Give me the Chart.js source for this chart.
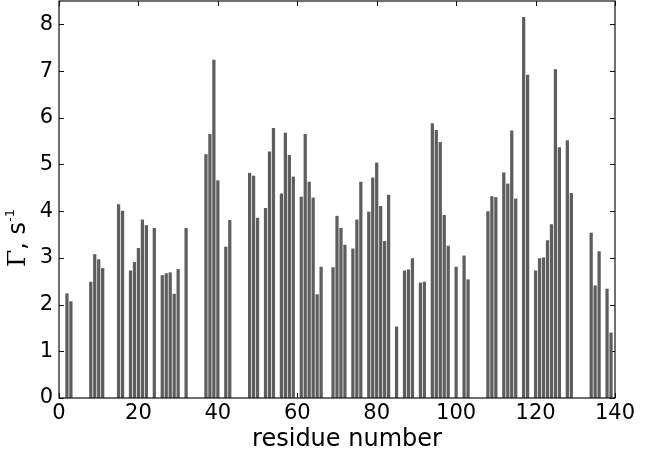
<!DOCTYPE html>
<html>
<head>
<meta charset="utf-8">
<script src="https://cdn.jsdelivr.net/npm/chart.js@4.4.1/dist/chart.umd.min.js"></script>
<style>
  html, body { margin: 0; padding: 0; background: #fff; }
  #wrap { width: 646px; height: 458px; }
</style>
</head>
<body>
<div id="wrap"><canvas id="gammaChart" width="646" height="458"></canvas></div>
<script>
// residue numbers and relaxation rates
const residues = [2, 3, 8, 9, 10, 11, 15, 16, 18, 19, 20, 21, 22, 24, 26, 27, 28, 29, 30, 32,
  37, 38, 39, 40, 42, 43, 48, 49, 50, 52, 53, 54, 56, 57, 58, 59, 61, 62, 63, 64, 65, 66,
  69, 70, 71, 72, 74, 75, 76, 78, 79, 80, 81, 82, 83, 85, 87, 88, 89, 91, 92, 94, 95, 96,
  97, 98, 100, 102, 103, 108, 109, 110, 112, 113, 114, 115, 117, 118, 120, 121, 122, 123,
  124, 125, 126, 128, 129, 134, 135, 136, 138, 139];
const gamma = [2.24, 2.07, 2.49, 3.08, 2.97, 2.78, 4.15, 4.01, 2.73, 2.91, 3.21, 3.82, 3.70, 3.64, 2.63, 2.67, 2.69, 2.23, 2.76, 3.64,
  5.22, 5.65, 7.24, 4.66, 3.24, 3.81, 4.82, 4.76, 3.86, 4.07, 5.28, 5.78, 4.38, 5.68, 5.20, 4.74, 4.31, 5.65, 4.63, 4.29, 2.22, 2.81,
  2.80, 3.90, 3.64, 3.28, 3.20, 3.82, 4.63, 3.99, 4.72, 5.04, 4.11, 3.36, 4.35, 1.53, 2.73, 2.75, 2.99, 2.47, 2.49, 5.88, 5.74, 5.48,
  3.92, 3.26, 2.81, 3.05, 2.54, 4.00, 4.32, 4.30, 4.83, 4.59, 5.73, 4.27, 8.16, 6.92, 2.73, 2.99, 3.01, 3.38,
  3.72, 7.04, 5.37, 5.52, 4.39, 3.54, 2.41, 3.14, 2.34, 1.40];
const xTicks = [0, 20, 40, 60, 80, 100, 120, 140];
const yTicks = [0, 1, 2, 3, 4, 5, 6, 7, 8];

const points = residues.map((r, i) => ({ x: r, y: gamma[i] }));

// frame box + inward tick marks, like the original plot
const framePlugin = {
  id: 'frame',
  beforeDatasetsDraw(chart) {
    const { ctx, chartArea: a, scales } = chart;
    ctx.save();
    ctx.strokeStyle = '#111';
    ctx.lineWidth = 1;
    ctx.beginPath();
    yTicks.forEach(v => {
      const y = Math.round(scales.y.getPixelForValue(v)) + 0.5;
      ctx.moveTo(a.left, y); ctx.lineTo(a.left + 5, y);
      ctx.moveTo(a.right, y); ctx.lineTo(a.right - 5, y);
    });
    xTicks.forEach(v => {
      const x = Math.round(scales.x.getPixelForValue(v)) + 0.5;
      ctx.moveTo(x, a.bottom); ctx.lineTo(x, a.bottom - 5);
      ctx.moveTo(x, a.top); ctx.lineTo(x, a.top + 5);
    });
    ctx.stroke();
    ctx.restore();
  },
  afterDatasetsDraw(chart) {
    const { ctx, chartArea: a } = chart;
    ctx.save();
    ctx.strokeStyle = '#111';
    ctx.lineWidth = 1.2;
    ctx.strokeRect(a.left, a.top, a.right - a.left, a.bottom - a.top);
    ctx.restore();
  }
};

// axis labels drawn by hand (y one has a superscript)
const labelPlugin = {
  id: 'labels',
  afterDraw(chart) {
    const ctx = chart.ctx;
    ctx.save();
    ctx.fillStyle = '#000';
    ctx.font = '24px "DejaVu Sans"';
    ctx.textAlign = 'center';
    ctx.textBaseline = 'middle';
    ctx.fillText('residue number', 347, 440);
    ctx.restore();

    const parts = [
      { t: 'Γ', font: '25px "DejaVu Serif"', dy: 0 },
      { t: ', s', font: '24px "DejaVu Sans"', dy: 0 },
      { t: '-1', font: '13px "DejaVu Sans"', dy: -11 }
    ];
    let total = 0;
    parts.forEach(p => { ctx.font = p.font; p.w = ctx.measureText(p.t).width; total += p.w; });
    ctx.save();
    ctx.translate(25, 238);
    ctx.rotate(-Math.PI / 2);
    ctx.fillStyle = '#000';
    ctx.textBaseline = 'alphabetic';
    let x = -total / 2;
    parts.forEach(p => {
      ctx.font = p.font;
      ctx.fillText(p.t, x, p.dy);
      x += p.w;
    });
    ctx.restore();
  }
};

new Chart(document.getElementById('gammaChart'), {
  type: 'bar',
  data: {
    datasets: [{
      data: points,
      backgroundColor: '#5e5e5e',
      borderWidth: 0,
      barPercentage: 0.82,
      categoryPercentage: 1.0
    }]
  },
  options: {
    responsive: false,
    animation: false,
    events: [],
    layout: { padding: { top: 1, right: 31, left: 0, bottom: 0 } },
    plugins: { legend: { display: false }, tooltip: { enabled: false } },
    scales: {
      x: {
        type: 'linear',
        min: 0,
        max: 140,
        offset: false,
        afterFit(s) { s.height = 60; s.paddingLeft = 0; s.paddingRight = 0; },
        afterBuildTicks(s) { s.ticks = xTicks.map(v => ({ value: v })); },
        grid: { display: false, drawTicks: false },
        border: { display: false },
        ticks: {
          color: '#000',
          padding: 3,
          maxRotation: 0,
          font: { family: 'DejaVu Sans', size: 21 }
        }
      },
      y: {
        min: 0,
        max: 8.5,
        afterFit(s) { s.width = 59; s.paddingTop = 0; s.paddingBottom = 0; },
        afterBuildTicks(s) { s.ticks = yTicks.map(v => ({ value: v })); },
        grid: { display: false, drawTicks: false },
        border: { display: false },
        ticks: {
          color: '#000',
          padding: 6,
          font: { family: 'DejaVu Sans', size: 21 }
        }
      }
    }
  },
  plugins: [framePlugin, labelPlugin]
});
</script>
</body>
</html>
